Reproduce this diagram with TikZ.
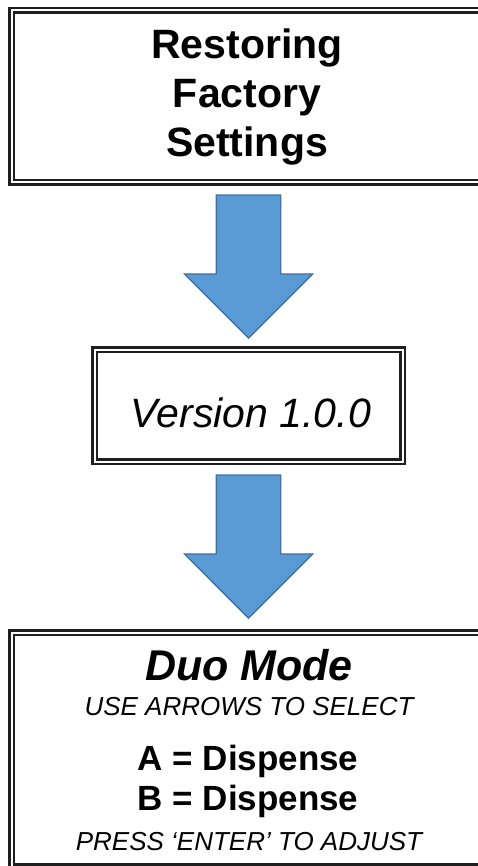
\documentclass[tikz,border=0pt]{standalone}
\usepackage{fontspec}
\setmainfont{Liberation Sans}
\usepackage{xcolor}
\usepackage{tikz}
\usetikzlibrary{shapes.arrows,positioning}

\definecolor{arrfill}{HTML}{5B9BD5}
\definecolor{arrline}{HTML}{41719C}

\begin{document}
\begin{tikzpicture}[x=1pt,y=-1pt,
  frame/.style={draw=black!88,double,line width=2.5pt,double distance=2pt,inner sep=0pt,align=center},
  downarr/.style={single arrow,rotate=-90,anchor=tip,fill=arrfill,draw=arrline,line width=1.3pt,
    inner xsep=0pt,inner ysep=31.5pt,minimum height=143pt,single arrow head extend=32pt},
  big/.style={font=\fontsize{35}{40}\selectfont\bfseries,anchor=base},
  small/.style={font=\fontsize{26}{30}\selectfont\itshape,anchor=base}]
\useasboundingbox (0,0) rectangle (478,866);
\clip (0,0) rectangle (478,866);
\node[frame,minimum width=471pt,minimum height=172pt,
  font=\fontsize{41}{49}\selectfont\bfseries] (reset) at (247,96.5) {Restoring\\Factory\\Settings};
\node[downarr] (arr1) at (248.5,339) {};
\node[frame,minimum width=308pt,minimum height=112pt] (ver) at (248.5,405.5) {};
\node[font=\fontsize{41}{48}\selectfont\itshape,anchor=base] (vertxt) at (251,427) {Version 1.0.0};
\node[downarr] (arr2) at (248.5,619) {};
\node[frame,minimum width=471pt,minimum height=234pt] (duo) at (247,749.6) {};
\node[font=\fontsize{43}{48}\selectfont\bfseries\itshape,anchor=base] (duotxt) at (249,680) {Duo Mode};
\node[small] (sel) at (249,715) {USE ARROWS TO SELECT};
\node[big] (chA) at (248,770) {A = Dispense};
\node[big] (chB) at (248,810) {B = Dispense};
\node[small] (adj) at (249,850) {PRESS ‘ENTER’ TO ADJUST};
\end{tikzpicture}
\end{document}
